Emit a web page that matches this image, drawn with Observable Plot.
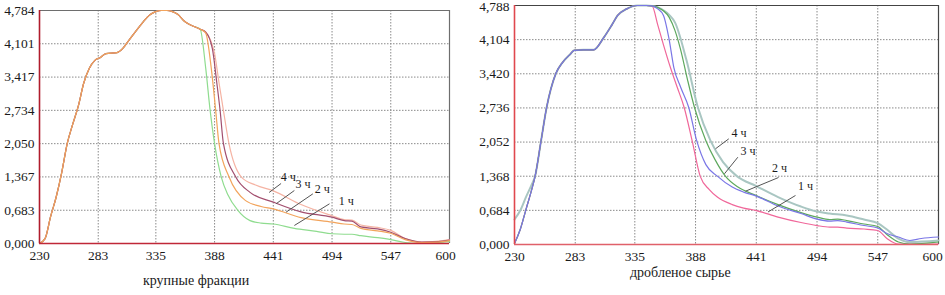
<!DOCTYPE html>
<html>
<head>
<meta charset="utf-8">
<script src="https://cdn.jsdelivr.net/npm/d3@7"></script>
<script src="https://cdn.jsdelivr.net/npm/@observablehq/plot@0.6"></script>
<style>
  body { margin: 0; background: #fff; }
  #wrap { position: relative; width: 945px; height: 295px; overflow: hidden; background: #fff; }
  .panel { position: absolute; top: 0; }
  .xt { position: absolute; font-family: "Liberation Serif", "Times New Roman", serif; font-size: 14px; line-height: 14px; color: #1a1a1a; white-space: nowrap; }
  svg text { font-family: "Liberation Serif", "Times New Roman", serif !important; }
</style>
</head>
<body>
<div id="wrap">
  <div id="left" class="panel" style="left:0px"></div>
  <div id="right" class="panel" style="left:460px"></div>
  <div class="xt" style="left:143px; top:274px">крупные фракции</div>
  <div class="xt" style="left:630px; top:266px">дробленое сырье</div>
</div>
<script>
// ---------- shared ----------
const seriesNames = ["1 ч", "2 ч", "3 ч", "4 ч"];
const xTicks = [230, 283, 335, 388, 441, 494, 547, 600];

// ---------- left chart: крупные фракции ----------
const leftYTicks = [0, 0.683, 1.367, 2.050, 2.734, 3.417, 4.101, 4.784];
const leftRiseX = [230, 235, 240, 245, 250, 255, 260, 265, 270, 275, 280, 285, 290, 300, 305, 310, 320, 330, 335, 340, 345, 350, 355, 360, 365, 370, 375];
const leftRiseY = [0, 0.1, 0.55, 0.95, 1.45, 2.05, 2.45, 2.82, 3.3, 3.6, 3.76, 3.82, 3.9, 3.92, 4.0, 4.15, 4.45, 4.7, 4.76, 4.784, 4.784, 4.76, 4.7, 4.58, 4.5, 4.45, 4.40];
const left1X = [380, 384, 388, 394, 400, 409, 420, 430, 441, 460, 480, 494, 505, 512, 520, 535, 547, 560, 575, 590, 600];
const left1Y = [3.6, 2.73, 2.05, 1.37, 1.0, 0.68, 0.47, 0.42, 0.40, 0.31, 0.25, 0.2, 0.19, 0.19, 0.16, 0.12, 0.08, 0.02, 0.0, 0.02, 0.04];
const left2X = [380, 385, 389, 392, 401, 416, 430, 441, 466, 494, 505, 512, 520, 535, 547, 560, 575, 590, 600];
const left2Y = [4.32, 3.6, 2.73, 2.05, 1.37, 0.88, 0.76, 0.71, 0.53, 0.44, 0.40, 0.39, 0.31, 0.26, 0.21, 0.08, 0.02, 0.03, 0.06];
const left3X = [380, 386, 390, 393, 396, 407, 420, 441, 466, 494, 505, 512, 520, 535, 547, 560, 575, 590, 600];
const left3Y = [4.34, 4.0, 3.3, 2.73, 2.05, 1.37, 1.05, 0.85, 0.65, 0.54, 0.47, 0.46, 0.34, 0.3, 0.23, 0.1, 0.03, 0.04, 0.07];
const left4X = [380, 388, 392, 396, 401, 412, 425, 441, 466, 494, 505, 512, 520, 535, 547, 560, 575, 590, 600];
const left4Y = [4.34, 3.9, 3.3, 2.73, 2.05, 1.37, 1.2, 1.08, 0.8, 0.57, 0.49, 0.48, 0.38, 0.33, 0.27, 0.1, 0.03, 0.05, 0.08];
const leftColors = ["#8fdc8f", "#f2a45c", "#a24e6e", "#f5b3a3"];
// label anchors (text position and leader line ends), in data units
const leftLabelX = [506.8, 485.1, 467.9, 454.4];
const leftLabelY = [0.862, 1.109, 1.211, 1.355];
const leftLeadX1 = [491.7, 476.7, 460.0, 448.0];
const leftLeadY1 = [0.815, 1.020, 1.088, 1.232];
const leftLeadX2 = [460.0, 452.5, 443.5, 437.2];
const leftLeadY2 = [0.370, 0.643, 0.815, 1.047];

// ---------- right chart: дробленое сырье ----------
const rightYTicks = [0, 0.684, 1.368, 2.052, 2.736, 3.420, 4.104, 4.788];
const rightRiseX = [230, 235, 240, 245, 248, 253, 258, 266, 272, 279, 282, 290, 299, 308, 315, 320, 328, 337, 345, 350];
const rightRiseY = [0.02, 0.3, 0.7, 1.1, 1.37, 2.05, 2.74, 3.42, 3.65, 3.82, 3.89, 3.90, 3.90, 4.15, 4.4, 4.59, 4.72, 4.788, 4.788, 4.78];
const right4StartX = [230, 235, 240, 245];
const right4StartY = [0.5, 0.68, 0.95, 1.2];
const right1X = [355, 360, 366, 372, 378, 385, 392, 400, 407, 420, 430, 441, 460, 480, 494, 505, 512, 520, 535, 547, 555, 565, 580, 600];
const right1Y = [4.4, 4.0, 3.55, 3.15, 2.75, 2.08, 1.37, 1.1, 0.95, 0.8, 0.73, 0.68, 0.55, 0.44, 0.38, 0.35, 0.35, 0.33, 0.31, 0.28, 0.12, 0.01, 0.01, 0.01];
const right2X = [355, 360, 365, 369, 375, 382, 389, 397, 407, 420, 430, 441, 460, 480, 494, 505, 512, 520, 535, 547, 555, 565, 575, 585, 600];
const right2Y = [4.72, 4.59, 4.1, 3.55, 3.15, 2.75, 2.08, 1.6, 1.37, 1.15, 1.05, 0.97, 0.77, 0.62, 0.51, 0.47, 0.48, 0.45, 0.38, 0.33, 0.22, 0.15, 0.08, 0.12, 0.15];
const right3X = [355, 365, 370, 375, 381, 387, 397, 405, 414, 425, 441, 460, 480, 494, 505, 512, 520, 535, 547, 555, 565, 575, 600];
const right3Y = [4.75, 4.55, 4.29, 3.9, 3.3, 2.75, 2.08, 1.7, 1.37, 1.15, 0.98, 0.8, 0.64, 0.55, 0.50, 0.51, 0.48, 0.41, 0.36, 0.2, 0.05, 0.01, 0.05];
const right4X = [355, 365, 370, 380, 390, 401, 412, 424, 441, 460, 480, 494, 505, 520, 535, 547, 555, 565, 575, 600];
const right4Y = [4.75, 4.6, 4.45, 3.7, 2.75, 2.08, 1.65, 1.37, 1.17, 0.95, 0.76, 0.66, 0.62, 0.58, 0.5, 0.43, 0.3, 0.12, 0.05, 0.08];
const rightColors = ["#f0679a", "#7a76e6", "#5da85d", "#a9c6c2"];
const rightLabelX = [483.9, 461.2, 433.8, 425.9];
const rightLabelY = [1.162, 1.532, 1.863, 2.234];
const rightLeadX1 = [475.2, 460.4, 424.9, 417.0];
const rightLeadY1 = [0.982, 1.342, 1.749, 2.117];
const rightLeadX2 = [451.2, 431.6, 413.2, 405.4];
const rightLeadY2 = [0.651, 1.068, 1.416, 1.917];

// ---------- build tables ----------
function buildRows(riseX, riseY, tails, startOverride) {
  const rows = [];
  tails.forEach(([tx, ty], i) => {
    const s = seriesNames[i];
    const start = tx[0];
    const ov = startOverride && startOverride[i];
    riseX.forEach((x, j) => {
      if (x >= start) return;
      if (ov && x <= ov[0][ov[0].length - 1]) return;
      rows.push({s, x, y: riseY[j]});
    });
    if (ov) ov[0].forEach((x, j) => rows.push({s, x, y: ov[1][j]}));
    tx.forEach((x, j) => rows.push({s, x, y: ty[j]}));
  });
  rows.sort((a, b) => seriesNames.indexOf(a.s) - seriesNames.indexOf(b.s) || a.x - b.x);
  return rows;
}
function zipLabels(lx, ly, x1, y1, x2, y2) {
  return seriesNames.map((s, i) => ({s, lx: lx[i], ly: ly[i], x1: x1[i], y1: y1[i], x2: x2[i], y2: y2[i]}));
}

const leftRows = buildRows(leftRiseX, leftRiseY, [[left1X, left1Y], [left2X, left2Y], [left3X, left3Y], [left4X, left4Y]]);
const rightRows = buildRows(rightRiseX, rightRiseY, [[right1X, right1Y], [right2X, right2Y], [right3X, right3Y], [right4X, right4Y]],
  [null, null, null, [right4StartX, right4StartY]]);
const leftLabels = zipLabels(leftLabelX, leftLabelY, leftLeadX1, leftLeadY1, leftLeadX2, leftLeadY2);
const rightLabels = zipLabels(rightLabelX, rightLabelY, rightLeadX1, rightLeadY1, rightLeadX2, rightLeadY2);

const serif = "'Liberation Serif', 'Times New Roman', serif";

function chart(o) {
  const yMax = o.yTicks[o.yTicks.length - 1];
  const lines = o.order.map(i => Plot.line(o.rows.filter(r => r.s === seriesNames[i]), {
    x: "x", y: "y", stroke: o.colors[i], strokeWidth: o.widths[i], curve: "monotone-x"
  }));
  return Plot.plot({
    width: o.width, height: 295,
    marginLeft: o.ml, marginRight: o.mr, marginTop: o.mt, marginBottom: o.mb,
    style: {fontFamily: serif, fontSize: "13.5px", color: "#1a1a1a", background: "transparent", overflow: "visible"},
    x: {domain: [230, 600], label: null},
    y: {domain: [0, yMax], label: null},
    marks: [
      Plot.gridX(xTicks, {stroke: "#8a8a8a", strokeOpacity: 1, strokeDasharray: "1.5,1.5"}),
      Plot.gridY(o.yTicks, {stroke: "#8a8a8a", strokeOpacity: 1, strokeDasharray: "1.5,1.5"}),
      Plot.axisX(xTicks.slice(0, -1), {tickSize: 0, tickPadding: 7, tickFormat: d => String(d), label: null}),
      Plot.axisX(xTicks.slice(-1), {tickSize: 0, tickPadding: 7, tickFormat: d => String(d), label: null, dx: o.lastDx}),
      Plot.axisY(o.yTicks.slice(0, -1), {tickSize: 0, tickPadding: 5, tickFormat: d => d.toFixed(3).replace(".", ","), label: null}),
      Plot.axisY(o.yTicks.slice(-1), {tickSize: 0, tickPadding: 5, tickFormat: d => d.toFixed(3).replace(".", ","), label: null, dy: o.topDy}),
      Plot.ruleY([yMax], {stroke: o.frame, strokeWidth: 1.2}),
      Plot.ruleX([600], {stroke: o.frame, strokeWidth: 1.2}),
      ...lines,
      Plot.link(o.labels, {x1: "x1", y1: "y1", x2: "x2", y2: "y2", stroke: "#555", strokeWidth: 1}),
      Plot.text(o.labels, {x: "lx", y: "ly", text: "s", fontSize: 12, fill: "#1a1a1a"}),
      Plot.ruleX([230], {stroke: o.axisL, strokeWidth: 1.6}),
      Plot.ruleY([0], {stroke: o.axisB, strokeWidth: 1.6})
    ]
  });
}

document.getElementById("left").append(chart({
  width: 460, ml: 39, mr: 11, mt: 10, mb: 52, lastDx: -4, topDy: 0,
  yTicks: leftYTicks, rows: leftRows, colors: leftColors, widths: [1.2, 1.2, 1.2, 1.2],
  order: [0, 3, 2, 1], labels: leftLabels, frame: "#6e6e6e", axisL: "#b01c2c", axisB: "#c02838"
}));
document.getElementById("right").append(chart({
  width: 485, ml: 54, mr: 7, mt: 5, mb: 51, lastDx: -6, topDy: 1,
  yTicks: rightYTicks, rows: rightRows, colors: rightColors, widths: [1.2, 1.2, 1.2, 2],
  order: [3, 0, 2, 1], labels: rightLabels, frame: "#444", axisL: "#e0484e", axisB: "#e0606a"
}));
</script>
</body>
</html>
